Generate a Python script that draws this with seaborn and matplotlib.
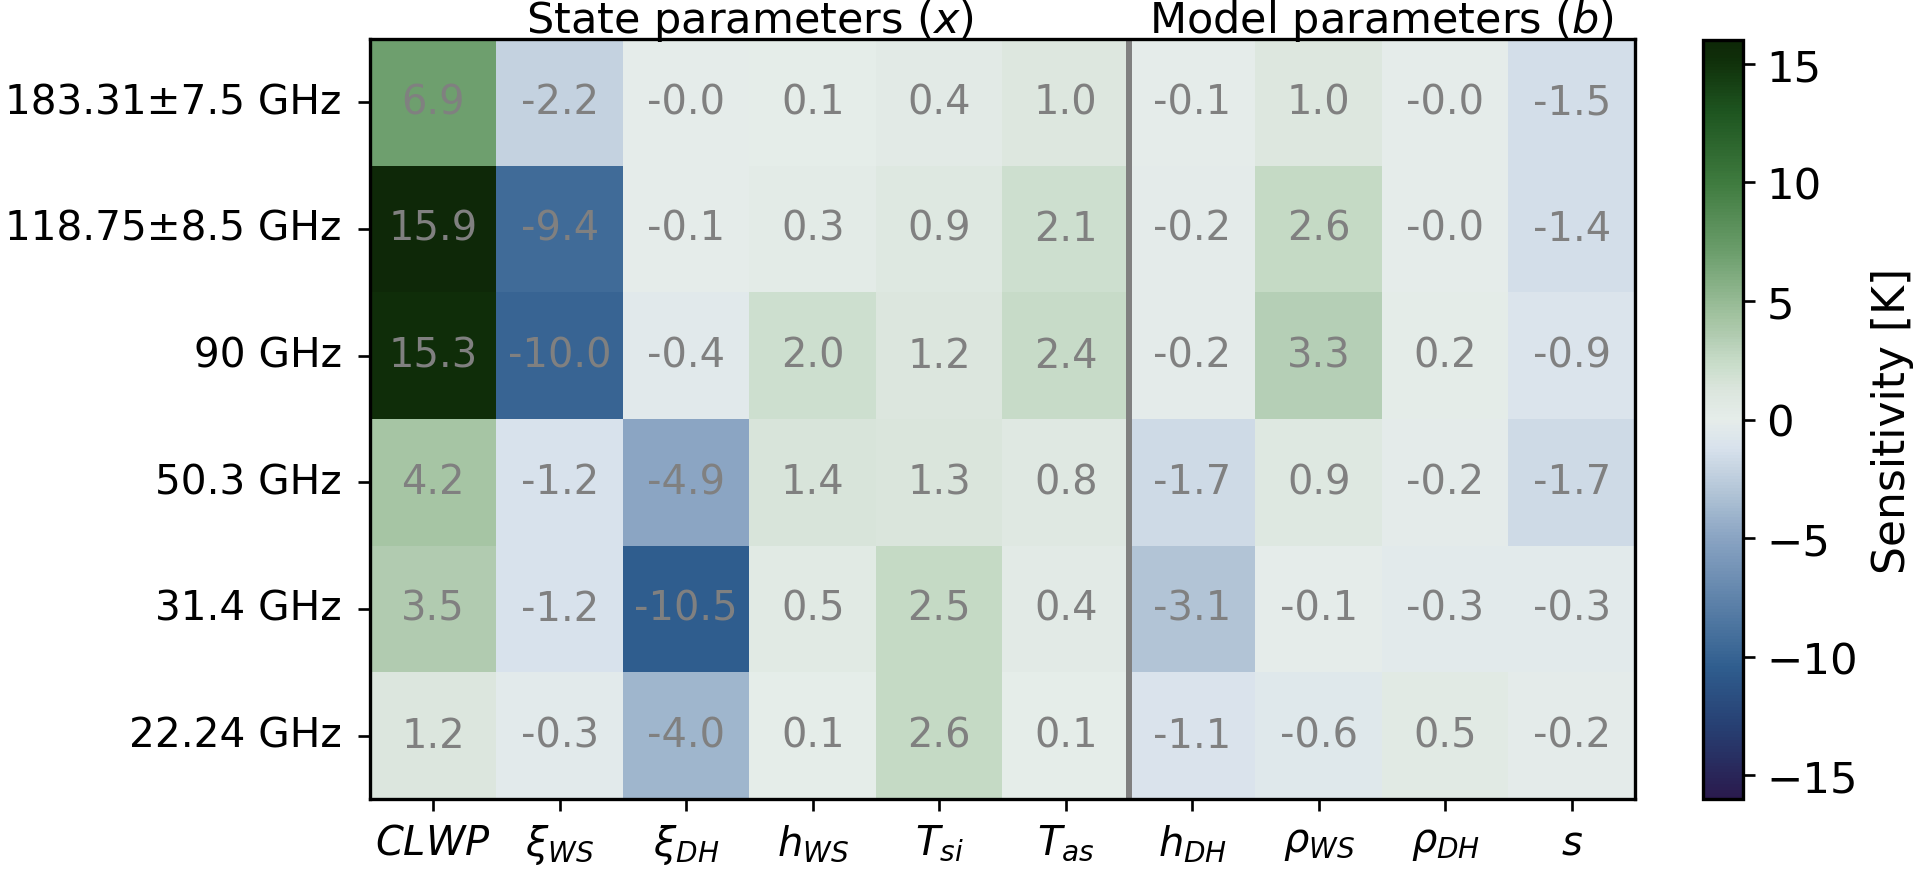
import numpy as np
import pandas as pd
import matplotlib
matplotlib.use('Agg')
import matplotlib.pyplot as plt
import matplotlib.transforms as mtransforms
from matplotlib.colors import LinearSegmentedColormap
import seaborn as sns

channels = ['183.31±7.5 GHz', '118.75±8.5 GHz', '90 GHz', '50.3 GHz', '31.4 GHz', '22.24 GHz']
params = [r'$CLWP$', r'$\xi_{WS}$', r'$\xi_{DH}$', r'$h_{WS}$', r'$T_{si}$',
          r'$T_{as}$', r'$h_{DH}$', r'$\rho_{WS}$', r'$\rho_{DH}$', r'$s$']

# sensitivity [K]; -0.01 is shown as "-0.0"
sens_183 = [6.9, -2.2, -0.01, 0.1, 0.4, 1.0, -0.1, 1.0, -0.01, -1.5]
sens_118 = [15.9, -9.4, -0.1, 0.3, 0.9, 2.1, -0.2, 2.6, -0.01, -1.4]
sens_90 = [15.3, -10.0, -0.4, 2.0, 1.2, 2.4, -0.2, 3.3, 0.2, -0.9]
sens_50 = [4.2, -1.2, -4.9, 1.4, 1.3, 0.8, -1.7, 0.9, -0.2, -1.7]
sens_31 = [3.5, -1.2, -10.5, 0.5, 2.5, 0.4, -3.1, -0.1, -0.3, -0.3]
sens_22 = [1.2, -0.3, -4.0, 0.1, 2.6, 0.1, -1.1, -0.6, 0.5, -0.2]

df = pd.DataFrame([sens_183, sens_118, sens_90, sens_50, sens_31, sens_22],
                  index=channels, columns=params)

# diverging blue-white-green map
anchors = [(-16, '#2a1a4d'), (-13, '#273f72'), (-10.5, '#2f5d8e'), (-9.4, '#416c99'),
           (-5, '#8aa4c3'), (-3.1, '#b1c4d6'), (-1.2, '#d8e2ec'), (0, '#e6edea'),
           (1.2, '#dce6de'), (2.5, '#c6dbc7'), (3.5, '#b2ccb2'), (4.2, '#a6c5a4'),
           (6.9, '#6fa06f'), (10, '#3f7b3f'), (13, '#1e5520'), (15.3, '#0f2e09'),
           (16, '#0e2808')]
cmap = LinearSegmentedColormap.from_list(
    'sens', [((v + 16) / 32, c) for v, c in anchors])

plt.rcParams['font.size'] = 12
fig = plt.figure(figsize=(7.975, 3.629), dpi=240)
ax = fig.add_axes([0.1933, 0.0815, 0.6609, 0.8726])
cax = fig.add_axes([0.8898, 0.0815, 0.0209, 0.8714])

sns.heatmap(df, ax=ax, cbar_ax=cax, cmap=cmap, vmin=-16, vmax=16,
            annot=True, fmt='.1f', annot_kws={'color': 'gray', 'fontsize': 12},
            cbar_kws={'label': 'Sensitivity [K]', 'ticks': [-15, -10, -5, 0, 5, 10, 15]})

for sp in ax.spines.values():
    sp.set_visible(True)
    sp.set_linewidth(1.0)
    sp.set_color('black')
cb = ax.collections[0].colorbar
cb.outline.set_linewidth(1.0)
cb.outline.set_edgecolor('black')
cb.ax.tick_params(labelsize=13)
cb.set_label('Sensitivity [K]', fontsize=13.2)

ax.axvline(6, color='gray', lw=1.8)
ax.set_yticklabels(channels, rotation=0, fontsize=12.2)
ax.set_xticklabels(params, rotation=0, fontsize=12)
ax.tick_params(length=3.5, width=0.8)
ax.tick_params(axis='y', pad=5)
ax.set_ylabel('')
ax.set_xlabel('')

trans = mtransforms.blended_transform_factory(ax.transData, ax.transAxes)
ax.text(3, 1.009, 'State parameters ($x$)', transform=trans, ha='center', va='baseline', fontsize=12.9)
ax.text(8, 1.009, 'Model parameters ($b$)', transform=trans, ha='center', va='baseline', fontsize=12.9)

fig.savefig('out.png', dpi=240)
